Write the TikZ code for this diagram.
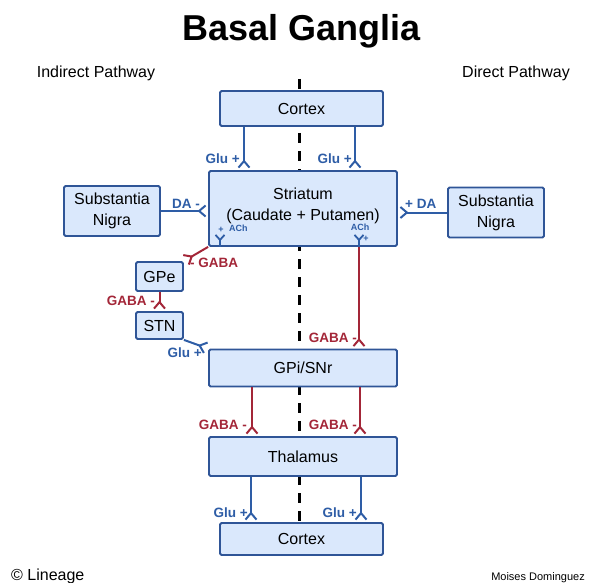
\documentclass[tikz,border=0pt]{standalone}
\usepackage{fontspec}
\setmainfont{Liberation Sans}
\usetikzlibrary{arrows.meta}
\definecolor{box fill}{HTML}{DAE8FC}
\definecolor{box edge}{HTML}{2F5597}
\definecolor{glu line}{HTML}{2E5DA6}
\definecolor{gaba line}{HTML}{A32638}
\pgfdeclarelayer{background}
\pgfsetlayers{background,main}
\tikzset{
  syn/.tip={Straight Barb[reversed,length=6.5pt,width=11pt]}, synsmall/.tip={Straight Barb[reversed,length=5pt,width=9pt]}
  }
\tikzstyle{region}=[rectangle,draw=box edge,fill=box fill,line width=1.8pt,rounded corners=1.5pt,align=center,inner sep=0pt,font=\fontsize{16}{21}\selectfont]
\tikzstyle{glu edge}=[draw=glu line,line width=2pt,shorten >=1.5pt,-syn]
\tikzstyle{gaba edge}=[draw=gaba line,line width=2pt,shorten >=1.5pt,-syn]
\tikzstyle{ach edge}=[draw=glu line,line width=1.8pt,-synsmall]
\tikzstyle{glu label}=[text=glu line,font=\bfseries\fontsize{13.5}{16}\selectfont,inner sep=0pt]
\tikzstyle{gaba label}=[text=gaba line,font=\bfseries\fontsize{13.5}{16}\selectfont,inner sep=0pt]
\tikzstyle{ach label}=[text=glu line,font=\bfseries\fontsize{9}{10}\selectfont,inner sep=0pt]
\tikzstyle{side text}=[font=\fontsize{16}{19}\selectfont,inner sep=0pt,anchor=base]
\tikzstyle{divider}=[draw,line width=3pt,dash pattern=on 10pt off 8pt]

\begin{document}
\begin{tikzpicture}[x=1pt,y=-1pt]
  \useasboundingbox (0,0) rectangle (594,583);
  \node[font=\bfseries\fontsize{36}{40}\selectfont,inner sep=0pt,anchor=base] (title) at (301.5,41) {Basal Ganglia};
  \node[side text] (indirect) at (96,78) {Indirect Pathway};
  \node[side text] (direct) at (516,78) {Direct Pathway};

  % regions
  \node[region,minimum width=163pt,minimum height=35pt] (ctxtop) at (301.5,108.5) {Cortex};
  \node[region,minimum width=188pt,minimum height=75pt] (striatum) at (303,208.5) {Striatum\\(Caudate + Putamen)\\[-11.5pt]\mbox{}};
  \node[region,minimum width=96pt,minimum height=50pt] (snl) at (112,211) {Substantia\\Nigra};
  \node[region,minimum width=96pt,minimum height=50pt] (snr) at (496,212.5) {Substantia\\Nigra};
  \node[region,minimum width=47pt,minimum height=29pt] (gpe) at (159.5,276.5) {GPe};
  \node[region,minimum width=47pt,minimum height=27pt] (stn) at (159.5,325.5) {STN};
  \node[region,minimum width=188pt,minimum height=37pt] (gpi) at (303,368) {GPi/SNr};
  \node[region,minimum width=188pt,minimum height=39pt] (thal) at (303,456.5) {Thalamus};
  \node[region,minimum width=163pt,minimum height=32pt] (ctxbot) at (301.5,539) {Cortex};

  \begin{pgfonlayer}{background}
    \coordinate (cut top) at (299,79);
    \coordinate (cut bottom) at (299,523);
    \path[divider] (cut top) -- (cut bottom);
  \end{pgfonlayer}

  % connections
  \foreach \x in {244,355}
    \path[glu edge] (ctxtop.south -| \x,0) -- (striatum.north -| \x,0);
  \path[glu edge] (snl.east) -- (striatum.west |- snl.east);
  \path[glu edge] (snr.west) -- (striatum.east |- snr.west);
  \path[gaba edge] (striatum.south west) -- (gpe.north east);
  \path[gaba edge] (gpe.south) -- (stn.north);
  \path[glu edge] (stn.south east) -- (gpi.north west);
  \path[gaba edge] (striatum.south -| 359,0) -- (gpi.north -| 359,0);
  \foreach \x in {252,360}
    \path[gaba edge] (gpi.south -| \x,0) -- (thal.north -| \x,0);
  \foreach \x in {251,361}
    \path[glu edge] (thal.south -| \x,0) -- (ctxbot.north -| \x,0);
  \coordinate (ach1) at (220,234);
  \coordinate (ach2) at (359,234);
  \foreach \c in {ach1,ach2}
    \path[ach edge] (striatum.south -| \c) -- (\c);

  % labels
  \foreach \pos/\name/\txt in {{(240,164)/glu1/Glu +}, {(352,164)/glu2/Glu +}, {(200,208)/da1/DA -}, {(202,357)/glu3/Glu +}, {(248,517)/glu4/Glu +}, {(357,517)/glu5/Glu +}}
    \node[glu label,anchor=base east] (\name) at \pos {\txt};
  \node[glu label,anchor=base west] (da2) at (405,208) {+ DA};
  \foreach \pos/\name/\txt in {{(155,305)/gaba2/GABA -}, {(357,342)/gaba3/GABA -}, {(247,429)/gaba4/GABA -}, {(357,429)/gaba5/GABA -}}
    \node[gaba label,anchor=base east] (\name) at \pos {\txt};
  \node[gaba label,anchor=base west] (gaba1) at (190,267) {- GABA};
  \node[ach label,anchor=base west] (ach1 text) at (229,231) {ACh};
  \node[ach label,anchor=base] (ach1 plus) at (221,232) {+};
  \node[ach label,anchor=base] (ach2 text) at (360,230) {ACh};
  \node[ach label,anchor=base] (ach2 plus) at (366,241) {+};

  \node[font=\fontsize{16}{19}\selectfont,inner sep=0pt,anchor=base west] (copy) at (11,580) {© Lineage};
  \node[font=\fontsize{11}{13}\selectfont,inner sep=0pt,anchor=base east] (author) at (585,580) {Moises Dominguez};
\end{tikzpicture}
\end{document}
